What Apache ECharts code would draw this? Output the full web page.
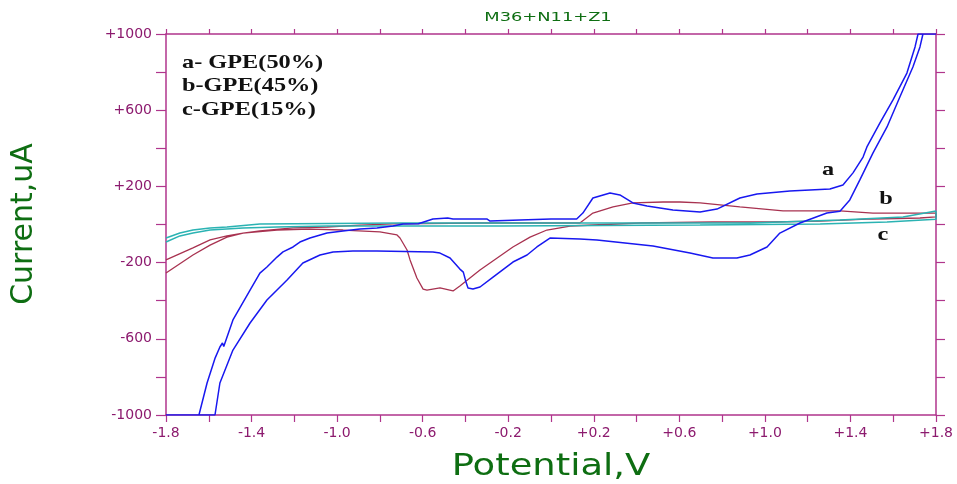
<!DOCTYPE html>
<html>
<head>
<meta charset="utf-8">
<script src="https://cdn.jsdelivr.net/npm/echarts@6/dist/echarts.min.js"></script>
<style>html,body{margin:0;padding:0;background:#fff}#chart{width:957px;height:484px}</style>
</head>
<body>
<div id="chart"></div>
<script>
// Tick labels
const xTickLabels = ['-1.8','-1.4','-1.0','-0.6','-0.2','+0.2','+0.6','+1.0','+1.4','+1.8'];
const yTickLabels = ['-1000','-600','-200','+200','+600','+1000'];
const legendLines = ['a- GPE(50%)','b-GPE(45%)','c-GPE(15%)'];
const curveNames = ['a','b','c'];

// Curve a: GPE(50%) [potential V, current uA]
const curveA = [
[-1.8,-1000],[-1.646,-1000],[-1.608,-832],[-1.570,-700],[-1.548,-643],[-1.536,-622],[-1.530,-640],
[-1.487,-501],[-1.454,-436],[-1.407,-344],[-1.361,-255],[-1.328,-223],[-1.281,-171],[-1.253,-144],
[-1.206,-118],[-1.174,-92],[-1.127,-71],[-1.047,-45],[-0.973,-34],[-0.893,-24],[-0.814,-18],
[-0.739,-8],[-0.692,3],[-0.620,4],[-0.552,29],[-0.483,34],[-0.458,29],[-0.300,29],[-0.285,18],
[-0.145,24],[0.0,29],[0.120,29],[0.149,60],[0.196,139],[0.276,165],[0.322,155],[0.383,113],
[0.449,97],[0.570,76],[0.697,66],[0.776,81],[0.883,139],[0.963,160],[1.117,176],[1.304,186],
[1.365,207],[1.412,271],[1.459,354],[1.477,407],[1.538,533],[1.599,654],[1.664,795],[1.702,932],
[1.716,1000],[1.8,1000],
[1.739,1000],[1.725,932],[1.692,827],[1.631,669],[1.571,512],[1.505,375],[1.444,234],[1.397,129],
[1.351,70],[1.290,60],[1.164,8],[1.070,-45],[1.010,-118],[0.930,-160],[0.869,-176],[0.757,-176],
[0.650,-150],[0.477,-113],[0.215,-81],[0.135,-76],[-0.005,-71],[-0.066,-118],[-0.112,-160],
[-0.178,-197],[-0.271,-276],[-0.332,-328],[-0.365,-339],[-0.388,-333],[-0.398,-300],[-0.410,-250],
[-0.426,-234],[-0.472,-176],[-0.519,-150],[-0.552,-144],[-0.814,-139],[-0.926,-139],[-1.019,-144],
[-1.080,-160],[-1.160,-202],[-1.234,-291],[-1.328,-396],[-1.407,-517],[-1.487,-659],[-1.548,-832],
[-1.571,-1000],[-1.8,-1000]
];

// Curve b: GPE(45%)
const curveB = [
[-1.8,-186],[-1.674,-123],[-1.594,-81],[-1.515,-60],[-1.440,-45],[-1.361,-34],[-1.206,-18],
[-1.047,-13],[-0.893,-3],[-0.739,3],[-0.332,8],[0.089,8],[0.135,8],[0.196,60],[0.290,92],
[0.383,113],[0.524,118],[0.603,118],[0.697,113],[0.883,92],[1.085,71],[1.351,71],[1.505,60],[1.8,60],
[1.8,40],[1.725,34],[1.505,29],[1.258,18],[1.024,13],[0.757,13],[0.416,8],[0.089,-8],[-0.019,-29],
[-0.098,-66],[-0.178,-118],[-0.332,-239],[-0.426,-323],[-0.458,-349],[-0.519,-333],[-0.580,-344],
[-0.598,-339],[-0.627,-281],[-0.659,-186],[-0.673,-134],[-0.706,-71],[-0.720,-55],[-0.800,-39],
[-0.973,-29],[-1.127,-24],[-1.281,-29],[-1.440,-45],[-1.515,-66],[-1.594,-108],[-1.674,-160],[-1.8,-255]
];

// Curve c: GPE(15%)
const curveC = [
[-1.8,-71],[-1.735,-45],[-1.674,-29],[-1.594,-18],[-1.515,-13],[-1.361,3],[-0.706,8],[0.229,8],
[0.930,8],[1.351,24],[1.646,39],[1.8,71],
[1.8,28],[1.571,13],[1.258,3],[0.697,-3],[-0.239,-8],[-1.047,-8],[-1.281,-13],[-1.440,-18],
[-1.594,-29],[-1.674,-45],[-1.735,-60],[-1.8,-92]
];

const AXIS = '#b0358c';
const LABEL = '#8c1a6e';
const GREEN = '#0e6e12';

function fmtX(v){
  const r = Math.round(v*10)/10;
  const s = r > 0 ? '+' + r.toFixed(1) : r.toFixed(1);
  return xTickLabels.indexOf(s) >= 0 ? s : '';
}
function fmtY(v){
  const r = Math.round(v);
  const s = r > 0 ? '+' + r : String(r);
  return yTickLabels.indexOf(s) >= 0 ? s : '';
}

const chart = echarts.init(document.getElementById('chart'), null, {renderer:'canvas'});
const lbl = {fontFamily:'"DejaVu Sans"', fontSize:14, color:LABEL};
const option = {
  animation:false,
  backgroundColor:'#fff',
  grid:{left:166, right:21, top:34, bottom:69, containLabel:false},
  xAxis:[
    {type:'value', min:-1.8, max:1.8, interval:0.2, position:'bottom',
     axisLine:{show:true, onZero:false, lineStyle:{color:AXIS, width:1.5}},
     axisTick:{show:true, inside:false, length:7, lineStyle:{color:AXIS, width:1.2}},
     axisLabel:Object.assign({formatter:fmtX, margin:11, showMinLabel:true, showMaxLabel:true, hideOverlap:false}, lbl),
     splitLine:{show:false}},
    {type:'value', min:-1.8, max:1.8, interval:0.2, position:'top',
     axisLine:{show:true, onZero:false, lineStyle:{color:AXIS, width:1.5}},
     axisTick:{show:true, inside:false, length:5, lineStyle:{color:AXIS, width:1.2}},
     axisLabel:{show:false}, splitLine:{show:false}}
  ],
  yAxis:[
    {type:'value', min:-1000, max:1000, interval:200, position:'left',
     axisLine:{show:true, onZero:false, lineStyle:{color:AXIS, width:1.5}},
     axisTick:{show:true, inside:false, length:10, lineStyle:{color:AXIS, width:1.2}},
     axisLabel:Object.assign({formatter:fmtY, margin:14, showMinLabel:true, showMaxLabel:true, hideOverlap:false}, lbl),
     splitLine:{show:false}},
    {type:'value', min:-1000, max:1000, interval:200, position:'right',
     axisLine:{show:true, onZero:false, lineStyle:{color:AXIS, width:1.5}},
     axisTick:{show:true, inside:false, length:9, lineStyle:{color:AXIS, width:1.2}},
     axisLabel:{show:false}, splitLine:{show:false}}
  ],
  series:[
    {name:curveNames[1], type:'line', data:curveB, showSymbol:false, smooth:false, clip:true,
     lineStyle:{color:'#a83250', width:1.3}, z:3},
    {name:curveNames[2], type:'line', data:curveC, showSymbol:false, smooth:false, clip:true,
     lineStyle:{color:'#2bb3b3', width:1.5}, z:4},
    {name:curveNames[0], type:'line', data:curveA, showSymbol:false, smooth:false, clip:true,
     lineStyle:{color:'#1818f0', width:1.5}, z:5}
  ],
  graphic:[
    {type:'text', x:548, y:18, scaleX:1.37, style:{text:'M36+N11+Z1', font:'13px "DejaVu Sans"', fill:GREEN, align:'center', verticalAlign:'middle', textAlign:'center', textVerticalAlign:'middle'}},
    {type:'text', x:24, y:224, rotation:Math.PI/2, style:{text:'Current,uA', font:'30px "DejaVu Sans"', fill:GREEN, align:'center', verticalAlign:'middle', textAlign:'center', textVerticalAlign:'middle'}},
    {type:'text', x:551, y:467, scaleX:1.23, style:{text:'Potential,V', font:'30px "DejaVu Sans"', fill:GREEN, align:'center', verticalAlign:'middle', textAlign:'center', textVerticalAlign:'middle'}},
    {type:'text', x:182, y:63, scaleX:1.28, style:{text:legendLines[0], font:'bold 19px "Liberation Serif"', fill:'#111', align:'left', verticalAlign:'middle', textAlign:'left', textVerticalAlign:'middle'}},
    {type:'text', x:182, y:86.5, scaleX:1.28, style:{text:legendLines[1], font:'bold 19px "Liberation Serif"', fill:'#111', align:'left', verticalAlign:'middle', textAlign:'left', textVerticalAlign:'middle'}},
    {type:'text', x:182, y:110, scaleX:1.28, style:{text:legendLines[2], font:'bold 19px "Liberation Serif"', fill:'#111', align:'left', verticalAlign:'middle', textAlign:'left', textVerticalAlign:'middle'}},
    {type:'text', x:828, y:170, scaleX:1.28, style:{text:curveNames[0], font:'bold 19px "Liberation Serif"', fill:'#111', align:'center', verticalAlign:'middle', textAlign:'center', textVerticalAlign:'middle'}},
    {type:'text', x:886, y:199, scaleX:1.28, style:{text:curveNames[1], font:'bold 19px "Liberation Serif"', fill:'#111', align:'center', verticalAlign:'middle', textAlign:'center', textVerticalAlign:'middle'}},
    {type:'text', x:883, y:235, scaleX:1.28, style:{text:curveNames[2], font:'bold 19px "Liberation Serif"', fill:'#111', align:'center', verticalAlign:'middle', textAlign:'center', textVerticalAlign:'middle'}}
  ]
};
chart.setOption(option);
</script>
</body>
</html>
